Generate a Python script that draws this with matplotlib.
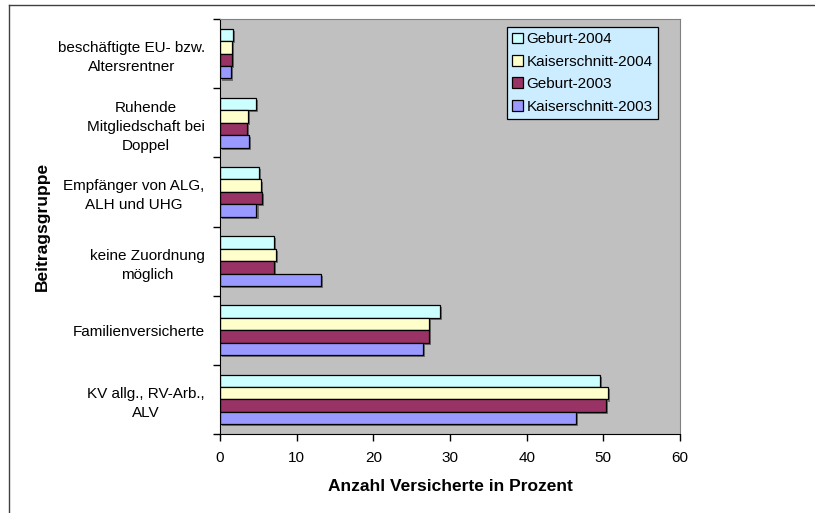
import matplotlib.pyplot as plt
import matplotlib.patheffects as pe
from matplotlib.lines import Line2D
import numpy as np

plt.rcParams['font.family'] = ['Liberation Sans', 'DejaVu Sans']

# Daten (von unten nach oben)
gruppen = ['KV allg., RV-Arb.,\nALV',
           'Familienversicherte',
           'keine Zuordnung\nmöglich',
           'Empfänger von ALG,\nALH und UHG',
           'Ruhende\nMitgliedschaft bei\nDoppel',
           'beschäftigte EU- bzw.\nAltersrentner']
serien = ['Geburt-2004', 'Kaiserschnitt-2004', 'Geburt-2003', 'Kaiserschnitt-2003']
geburt_2004 = [49.6, 28.7, 7.0, 5.1, 4.65, 1.7]
kaiserschnitt_2004 = [50.6, 27.2, 7.3, 5.4, 3.6, 1.6]
geburt_2003 = [50.4, 27.3, 7.0, 5.5, 3.55, 1.5]
kaiserschnitt_2003 = [46.4, 26.5, 13.2, 4.75, 3.8, 1.45]
farben = ['#CCFFFF', '#FFFFCC', '#993366', '#9999FF']

werte = [geburt_2004, kaiserschnitt_2004, geburt_2003, kaiserschnitt_2003]

fig = plt.figure(figsize=(8.15, 5.13), dpi=100)
ax = fig.add_axes([220/815, 1 - 434/513, 460/815, 415/513])
ax.set_facecolor('#C0C0C0')

y = np.arange(len(gruppen))
h = 0.18
schatten = [pe.SimplePatchShadow(offset=(1.5, -1.5), shadow_rgbFace='#707070', alpha=1.0), pe.Normal()]
for k, (name, vals, c) in enumerate(zip(serien, werte, farben)):
    pos = y + (1.5 - k) * h
    ax.barh(pos, vals, height=h, color=c, edgecolor='black', linewidth=0.9,
            label=name, path_effects=schatten)

ax.set_xlim(0, 60)
ax.set_ylim(-0.5, 5.5)
ax.set_xticks(np.arange(0, 61, 10))
ax.set_yticks(y)
ax.set_yticklabels(gruppen, multialignment='center', linespacing=1.45)
ax.set_yticks(np.arange(-0.5, 5.6, 1), minor=True)
ax.tick_params(axis='y', which='major', length=0, pad=11, labelsize=11)
ax.tick_params(axis='y', which='minor', length=5, width=1)
ax.tick_params(axis='x', length=5, width=1, labelsize=11, pad=7)

for s in ['top', 'right']:
    ax.spines[s].set_color('#808080')
for s in ['left', 'bottom']:
    ax.spines[s].set_color('black')

ax.set_xlabel('Anzahl Versicherte in Prozent', fontsize=12.5, fontweight='bold', labelpad=10)
ax.set_ylabel('Beitragsgruppe', fontsize=12.5, fontweight='bold')
ax.yaxis.set_label_coords(-0.37, 0.5)

leg = ax.legend(loc='upper right', bbox_to_anchor=((658 - 220) / 460, 1 - (27 - 19) / 415),
                fontsize=11, fancybox=False, framealpha=1, handlelength=0.7, handleheight=0.7,
                handletextpad=0.25, borderpad=0.35, labelspacing=0.55, borderaxespad=0)
leg.get_frame().set_facecolor('#CCECFF')
leg.get_frame().set_edgecolor('black')
leg.get_frame().set_linewidth(0.9)
for hd in leg.legend_handles:
    hd.set_path_effects([])

# Rahmen um die Grafik
fig.add_artist(Line2D([9/815, 9/815], [0, 1 - 5/513], transform=fig.transFigure, color='#404040', lw=1))
fig.add_artist(Line2D([9/815, 1], [1 - 5/513, 1 - 5/513], transform=fig.transFigure, color='#404040', lw=1))

fig.savefig('out.png', dpi=100)
